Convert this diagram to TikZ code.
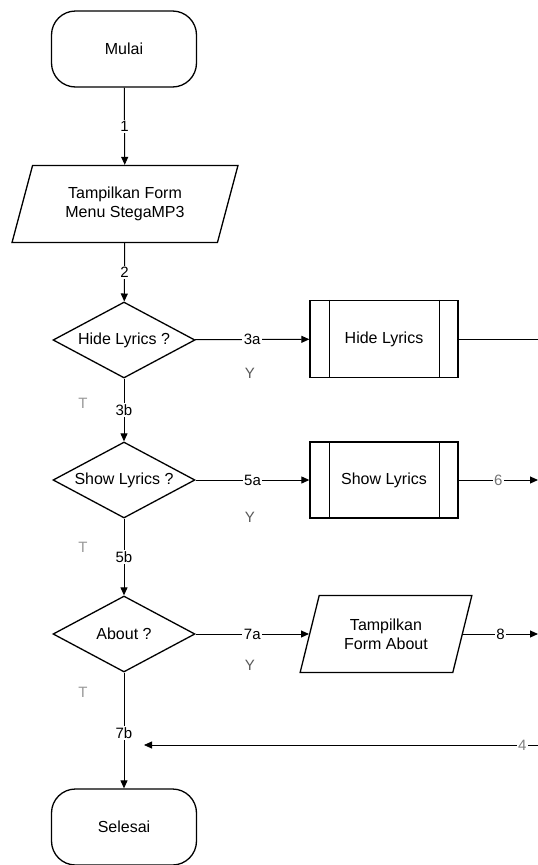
\documentclass[tikz,border=0pt]{standalone}
\usepackage{fontspec}
\setmainfont{Liberation Sans}
\usetikzlibrary{arrows.meta,shapes.geometric}
\tikzset{
  base/.style={draw, line width=1.3pt, font=\fontsize{16}{19}\selectfont, align=center},
  term/.style={base, rounded corners=24pt, minimum width=145pt, minimum height=76pt},   % Mulai / Selesai
  io/.style={base, trapezium, trapezium stretches=true, trapezium left angle=71,
             trapezium right angle=109, minimum height=77pt},                          % input/output form
  dec/.style={base, diamond, aspect=1.87, inner sep=0pt,
              minimum width=142pt, minimum height=76pt},                               % decision
  proc/.style={base, minimum width=148pt, minimum height=77pt},                        % predefined process
  flow/.style={line width=1pt, -{Triangle[length=8pt,width=7pt]}},
  line/.style={line width=1pt},
  num/.style={fill=white, inner sep=1.5pt, font=\fontsize{15}{17}\selectfont},
  ans/.style={font=\fontsize{15}{17}\selectfont, text=black!65},
}

\begin{document}
\begin{tikzpicture}[x=1pt, y=-1pt]
  \useasboundingbox (0,0) rectangle (538,865);
  % main column
  \node[term] (mulai) at (124,49) {Mulai};
  \node[io, minimum width=226pt] (formmenu) at (125,204) {Tampilkan Form\\Menu StegaMP3};
  \node[dec] (hide) at (124,340) {Hide Lyrics ?};
  \node[dec] (show) at (124,480) {Show Lyrics ?};
  \node[dec] (about) at (124,634) {About ?};
  \node[term] (selesai) at (124,827) {Selesai};
  % right column
  \node[proc] (hideproc) at (384,339) {Hide Lyrics};
  \node[proc, minimum height=76pt] (showproc) at (384,480) {Show Lyrics};
  \node[io, minimum width=172pt] (formabout) at (386,634) {Tampilkan\\Form About};
  % double sides of the process boxes
  \foreach \p in {hideproc,showproc}{
    \draw[line width=1.3pt] ([xshift=20pt]\p.north west) -- ([xshift=20pt]\p.south west);
    \draw[line width=1.3pt] ([xshift=-19pt]\p.north east) -- ([xshift=-19pt]\p.south east);
  }
  % free ends at the page edge
  \coordinate (hideout) at (538,339);
  \coordinate (showout) at (538,480);
  \coordinate (aboutout) at (538,634);
  \coordinate (backin) at (538,745);
  \coordinate (backend) at (144,745);
  % connectors
  \draw[flow] (mulai) -- node[num] {1} (formmenu);
  \draw[flow] (formmenu) -- node[num] {2} (hide);
  \draw[flow] (hide) -- node[num] {3a} (hideproc);
  \draw[line] (hideproc) -- (hideout);
  \draw[flow] (hide) -- node[num] {3b} (show);
  \draw[flow] (show) -- node[num] {5a} (showproc);
  \draw[flow] (showproc) -- node[num, text=black!55] {6} (showout);
  \draw[flow] (show) -- node[num] {5b} (about);
  \draw[flow] (about) -- node[num] {7a} (formabout);
  \draw[flow] (formabout) -- node[num] {8} (aboutout);
  \draw[flow] (about) -- node[num, pos=0.52] {7b} (selesai);
  \draw[flow, line width=0.8pt] (backin) -- node[num, pos=0.04, text=black!50] {4} (backend);
  % answers
  \node[ans] (y1) at (250,373) {Y};
  \node[ans] (y2) at (250,517) {Y};
  \node[ans] (y3) at (250,665) {Y};
  \node[ans, text=black!40] (t1) at (83,403) {T};
  \node[ans, text=black!40] (t2) at (83,547) {T};
  \node[ans, text=black!40] (t3) at (83,692) {T};
\end{tikzpicture}
\end{document}
